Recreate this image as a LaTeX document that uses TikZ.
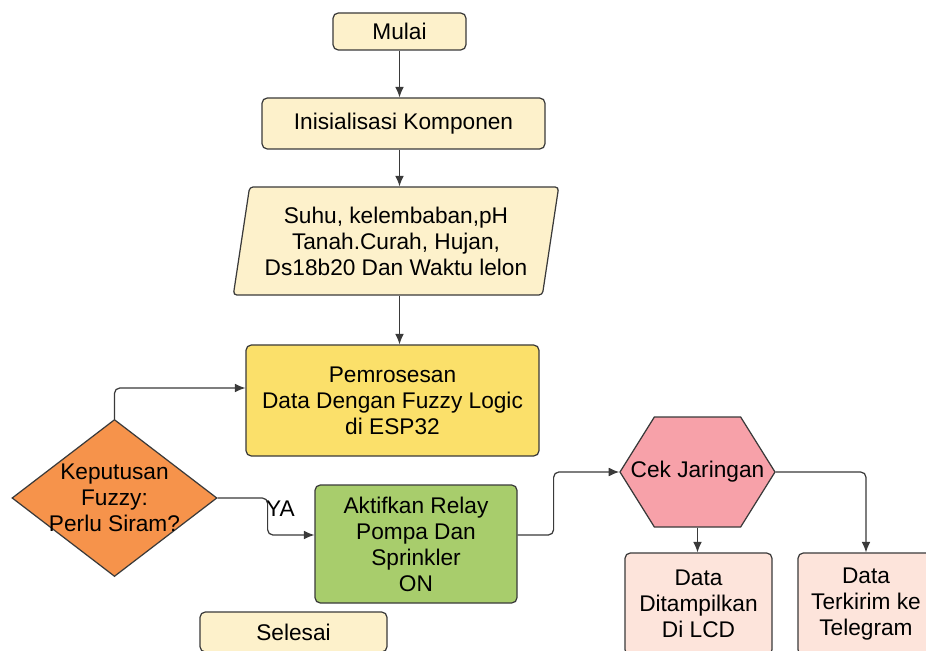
\documentclass[tikz,border=0pt]{standalone}
\usepackage{fontspec}
\setmainfont{Liberation Sans}
\usetikzlibrary{shapes}
\usetikzlibrary{positioning}
\usetikzlibrary{arrows.meta}

\definecolor{creamfill}{HTML}{FDF1CB}
\definecolor{yellowfill}{HTML}{FBE06A}
\definecolor{greenfill}{HTML}{A8CD6C}
\definecolor{orangefill}{HTML}{F6934B}
\definecolor{pinkfill}{HTML}{F7A1A9}
\definecolor{peachfill}{HTML}{FDE4DB}
\definecolor{linegray}{HTML}{3A3A3A}

\begin{document}
\begin{tikzpicture}[
    line width=0.7pt,
    font=\fontsize{12.9}{14.8}\selectfont
]
\tikzset{
    boxnode/.style = {rectangle, rounded corners=3pt, draw=linegray, align=center, inner sep=0pt},
    termnode/.style = {boxnode, fill=creamfill},
    ionode/.style = {trapezium, trapezium left angle=78, trapezium right angle=102,
        trapezium stretches=true, rounded corners=2pt, draw=linegray, fill=creamfill,
        align=center, inner sep=0pt},
    decnode/.style = {diamond, draw=linegray, fill=orangefill, inner sep=0pt},
    hexnode/.style = {signal, signal to=west and east, signal pointer angle=116,
        draw=linegray, fill=pinkfill, inner sep=0pt},
    edgea/.style = {-{Latex[length=6pt,width=5pt]}, draw=linegray, rounded corners=3pt}
}
\useasboundingbox (0,0) rectangle (18.52,-13.02);
\clip (0,0) rectangle (18.52,-13.02);
\fill[white] (0,0) rectangle (18.52,-13.02);

\node[termnode, minimum width=2.66cm, minimum height=0.74cm] at (7.99,-0.63) (start) {Mulai};
\node[termnode, minimum width=5.66cm, minimum height=1.02cm] at (8.07,-2.47) (init) {Inisialisasi Komponen};
\node[ionode, minimum width=6.52cm, minimum height=2.16cm] at (7.92,-4.82) (input)
    {Suhu, kelembaban,pH\\Tanah.Curah, Hujan,\hspace*{0.9cm}\\Ds18b20 Dan Waktu lelon};
\node[boxnode, fill=yellowfill, minimum width=5.86cm, minimum height=2.22cm] at (7.85,-8.01) (proc)
    {Pemrosesan\\Data Dengan Fuzzy Logic\\di ESP32};
\node[decnode, minimum width=4.1cm, minimum height=3.14cm,
    label={[align=center]center:Keputusan\\Fuzzy:\\Perlu Siram?}] at (2.29,-9.96) (fuzzy) {};
\node[boxnode, fill=greenfill, minimum width=4.04cm, minimum height=2.36cm] at (8.32,-10.88) (relay)
    {Aktifkan Relay\\Pompa Dan\\Sprinkler\\ON};
\node[hexnode, minimum width=3.1cm, minimum height=2.2cm,
    label={center:Cek Jaringan}] at (13.95,-9.44) (network) {};
\node[boxnode, fill=peachfill, minimum width=2.94cm, minimum height=2.04cm] at (13.97,-12.08) (lcd)
    {Data\\Ditampilkan\\Di LCD};
\node[boxnode, fill=peachfill, minimum width=2.72cm, minimum height=2.04cm] at (17.32,-12.08) (tele)
    {Data\\Terkirim ke\\Telegram};
\node[termnode, minimum width=3.74cm, minimum height=0.8cm] at (5.87,-12.64) (finish) {Selesai};

\draw[edgea] (start.south) -- (start.south |- init.north);
\draw[edgea] (init.south -| start.south) -- (input.north -| start.south);
\draw[edgea] (input.south -| start.south) -- (proc.north -| start.south);
\draw[edgea] (fuzzy.north) |- ([yshift=0.25cm]proc.west);
\draw[edgea] (fuzzy.east) -- ++(1.0,0)
    node[below right, inner sep=0pt, xshift=-0.04cm, yshift=-0.05cm] (ya) {YA}
    |- ([yshift=0.18cm]relay.west);
\draw[edgea] ([yshift=0.18cm]relay.east) -- ++(0.72,0) |- (network.west);
\draw[edgea] (network.south) -- (network.south |- lcd.north);
\draw[edgea] (network.east) -| (tele.north);
\end{tikzpicture}
\end{document}
